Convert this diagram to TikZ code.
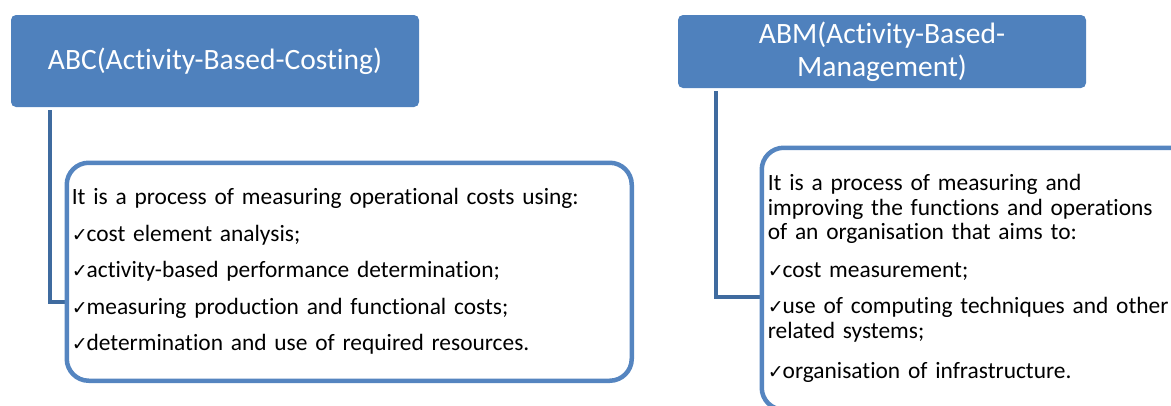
\documentclass[tikz,border=0pt]{standalone}
\usepackage{fontspec}
\setmainfont[Ligatures=NoCommon]{Carlito}
\newfontfamily\tickfont{DejaVu Sans}
\newcommand{\tck}{{\tickfont\fontsize{19}{19}\selectfont ✓}\kern-1pt}
\definecolor{headblue}{HTML}{4F81BD}
\definecolor{frameblue}{HTML}{5585C0}
\definecolor{linkblue}{HTML}{3F6B9F}
\begin{document}
\begin{tikzpicture}[x=1pt, y=-1pt,
    titlebox/.style={fill=headblue, rounded corners=5pt, text=white, font=\fontsize{29.5}{33}\selectfont, minimum width=408pt, align=center},
    notebox/.style={draw=frameblue, fill=white, line width=4.5pt, rounded corners=22pt, anchor=north west, align=left, font=\fontsize{23.4}{24.5}\selectfont},
    joinline/.style={draw=linkblue, line width=4pt}]
    \useasboundingbox (0,0) rectangle (1171,405);

    \node[titlebox, minimum height=92pt] (abc) at (215, 61) {ABC(Activity-Based-Costing)};
    \node[titlebox, minimum height=73pt] (abm) at (882, 51.5) {ABM(Activity-Based-\\Management)};

    \coordinate (abcjoin) at (66, 302);
    \coordinate (abmjoin) at (761, 297);
    \draw[joinline] ([xshift=39pt, yshift=-3pt]abc.south west) |- (abcjoin);
    \draw[joinline] ([xshift=38pt, yshift=-3pt]abm.south west) |- (abmjoin);

    \node[notebox, text width=555pt, inner xsep=5pt, minimum height=218pt] (abcbox) at (64.5, 160.5)
        {It is a process of measuring operational costs using:\\[12pt]
         \tck cost element analysis;\\[12pt]
         \tck activity-based performance determination;\\[12pt]
         \tck measuring production and functional costs;\\[12pt]
         \tck determination and use of required resources.};
    \node[notebox, text width=440pt, inner xsep=6pt, minimum height=262pt] (abmbox) at (759.5, 145.5)
        {It is a process of measuring and\\
         improving the functions and operations\\
         of an organisation that aims to:\\[13pt]
         \tck cost measurement;\\[12pt]
         \tck use of computing techniques and other\\
         related systems;\\[16pt]
         \tck organisation of infrastructure.};
\end{tikzpicture}
\end{document}
